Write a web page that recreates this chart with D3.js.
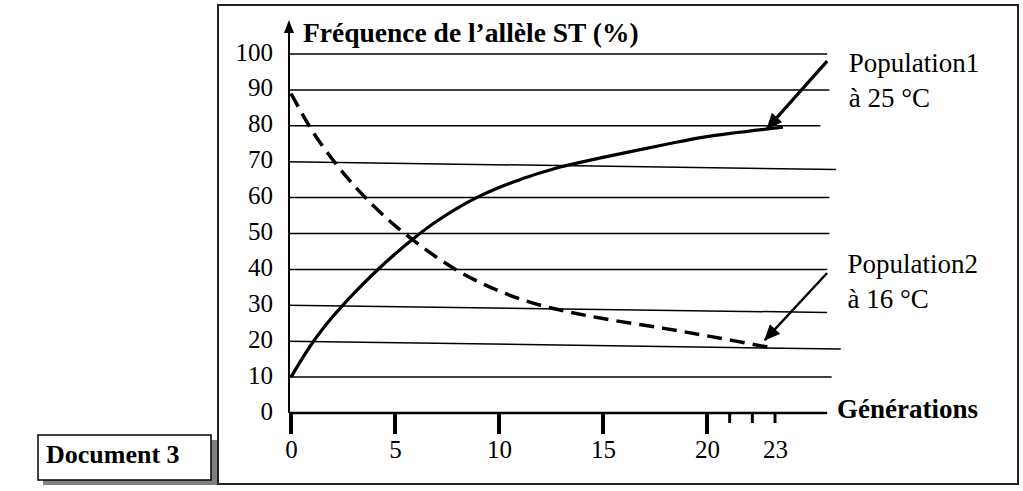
<!DOCTYPE html>
<html>
<head>
<meta charset="utf-8">
<script src="https://cdn.jsdelivr.net/npm/d3@7"></script>
<style>
  body { margin: 0; background: #fff; }
  svg { display: block; font-family: "Liberation Serif", "Times New Roman", serif; }
</style>
</head>
<body>
<svg width="1023" height="491"></svg>
<script>
// generations / frequence (%)
var pop1 = [[0, 10], [1, 19.3], [2, 26.8], [3, 33.2], [4, 39], [5, 44.3], [6, 49.1], [7, 53.4],
  [8, 57.1], [9, 60.2], [10, 62.8], [11, 65], [12, 66.9], [13, 68.6], [15, 71.2], [18, 74.8],
  [20, 77], [23.35, 79.6]];
var pop2 = [[0, 89], [1, 78.8], [2, 70.6], [3, 63.6], [4, 57.5], [5, 52.2], [6, 47.6], [7, 43.4],
  [8, 39.7], [9, 36.6], [10, 34], [11, 31.8], [12, 30], [13, 28.6], [15, 26.3], [18, 23.5],
  [20, 21.5], [22.8, 18.2]];

var yTicks = [0, 10, 20, 30, 40, 50, 60, 70, 80, 90, 100];
var xTicks = [0, 5, 10, 15, 20, 23];
var majorTicks = [0, 5, 10, 15, 20];
var minorTicks = [21, 22, 23];

// horizontal lines of the grid: level, where it ends (generation), level at the end
var gridLines = [
  { v: 100, to: 25.3, endV: 100 },
  { v: 90, to: 25.4, endV: 90 },
  { v: 80, to: 25.0, endV: 80 },
  { v: 70, to: 25.7, endV: 67.8 },
  { v: 60, to: 25.4, endV: 60 },
  { v: 50, to: 25.4, endV: 50 },
  { v: 40, to: 25.3, endV: 40 },
  { v: 30, to: 25.3, endV: 28.0 },
  { v: 20, to: 25.9, endV: 17.8 },
  { v: 10, to: 25.5, endV: 10 }
];

var labels = [
  { lines: ["Population1", "à 25 °C"], at: [26.25, 100], from: [25.3, 98], to: [22.65, 79.2], w: 3.2 },
  { lines: ["Population2", "à 16 °C"], at: [26.2, 44], from: [25.3, 39], to: [22.55, 20.3], w: 2.4 }
];

var svg = d3.select("svg");

var x = d3.scaleLinear().domain([0, 20, 23]).range([291, 707, 775]);
var y = d3.scaleLinear().domain([0, 100]).range([413, 54]);

// frames
svg.append("rect").attr("x", 218).attr("y", 5).attr("width", 800).attr("height", 479)
  .attr("fill", "none").attr("stroke", "#222").attr("stroke-width", 2);

svg.append("rect").attr("x", 43).attr("y", 440).attr("width", 174).attr("height", 45)
  .attr("fill", "#808080");
svg.append("rect").attr("x", 38).attr("y", 435).attr("width", 173).attr("height", 45)
  .attr("fill", "#fff").attr("stroke", "#111").attr("stroke-width", 1.6);
svg.append("text").attr("x", 46).attr("y", 463)
  .attr("font-size", 26).attr("font-weight", "bold").text("Document 3");

var defs = svg.append("defs");
defs.append("marker")
  .attr("id", "head")
  .attr("markerUnits", "userSpaceOnUse")
  .attr("viewBox", "0 0 16 14")
  .attr("refX", 15).attr("refY", 7)
  .attr("markerWidth", 17).attr("markerHeight", 14)
  .attr("orient", "auto")
  .append("path").attr("d", "M0,0L16,7L0,14z").attr("fill", "#000");

// grid
svg.append("g").selectAll("line")
  .data(gridLines)
  .enter().append("line")
  .attr("x1", x(0) - 3)
  .attr("x2", function (d) { return x(d.to); })
  .attr("y1", function (d) { return y(d.v); })
  .attr("y2", function (d) { return y(d.endV); })
  .attr("stroke", "#000").attr("stroke-width", 1.5);

// axes
var yAxis = svg.append("g")
  .attr("transform", "translate(" + 289 + ",0)")
  .call(d3.axisLeft(y).tickValues(yTicks).tickSize(0).tickPadding(16))
  .attr("font-family", null).attr("font-size", 25);
yAxis.select(".domain").remove();
yAxis.selectAll("text").attr("dy", "0.24em").attr("fill", "#000");

var xAxis = svg.append("g")
  .attr("transform", "translate(0," + y(0) + ")")
  .call(d3.axisBottom(x).tickValues(xTicks).tickSize(0).tickPadding(27))
  .attr("font-family", null).attr("font-size", 25);
xAxis.select(".domain").remove();
xAxis.selectAll("text").attr("fill", "#000");

svg.append("line").attr("x1", 289).attr("x2", x(25.3))
  .attr("y1", y(0)).attr("y2", y(0))
  .attr("stroke", "#000").attr("stroke-width", 2.5);

svg.append("g").selectAll("line")
  .data(majorTicks)
  .enter().append("line")
  .attr("x1", x).attr("x2", x)
  .attr("y1", y(0)).attr("y2", y(0) + 21)
  .attr("stroke", "#000").attr("stroke-width", 4);

svg.append("g").selectAll("line")
  .data(minorTicks)
  .enter().append("line")
  .attr("x1", x).attr("x2", x)
  .attr("y1", y(0)).attr("y2", y(0) + 10)
  .attr("stroke", "#000").attr("stroke-width", 3);

svg.append("line").attr("x1", 289).attr("x2", 289)
  .attr("y1", y(0)).attr("y2", y(106.5))
  .attr("stroke", "#000").attr("stroke-width", 2);
svg.append("path")
  .attr("d", "M289," + y(109.5) + "L294," + (y(109.5) + 13) + "L284," + (y(109.5) + 13) + "z")
  .attr("fill", "#000");

svg.append("text").attr("x", 303).attr("y", 42)
  .attr("font-size", 27.5).attr("font-weight", "bold")
  .text("Fréquence de l’allèle ST (%)");
svg.append("text").attr("x", 837).attr("y", 418)
  .attr("font-size", 27).attr("font-weight", "bold")
  .text("Générations");

// curves
var line = d3.line()
  .x(function (d) { return x(d[0]); })
  .y(function (d) { return y(d[1]); })
  .curve(d3.curveCatmullRom.alpha(0.5));

svg.append("path").datum(pop1)
  .attr("d", line).attr("fill", "none")
  .attr("stroke", "#000").attr("stroke-width", 3.2);

svg.append("path").datum(pop2)
  .attr("d", line).attr("fill", "none")
  .attr("stroke", "#000").attr("stroke-width", 3.5)
  .attr("stroke-dasharray", "15,8");

// annotations
var note = svg.append("g").selectAll("g")
  .data(labels)
  .enter().append("g");

note.append("line")
  .attr("x1", function (d) { return x(d.from[0]); })
  .attr("y1", function (d) { return y(d.from[1]); })
  .attr("x2", function (d) { return x(d.to[0]); })
  .attr("y2", function (d) { return y(d.to[1]); })
  .attr("stroke", "#000")
  .attr("stroke-width", function (d) { return d.w; })
  .attr("marker-end", "url(#head)");

note.append("text")
  .attr("font-size", 27)
  .selectAll("tspan")
  .data(function (d) {
    return d.lines.map(function (t, i) { return { t: t, i: i, at: d.at }; });
  })
  .enter().append("tspan")
  .attr("x", function (d) { return x(d.at[0]); })
  .attr("y", function (d) { return y(d.at[1]) + 18 + d.i * 35; })
  .text(function (d) { return d.t; });
</script>
</body>
</html>
